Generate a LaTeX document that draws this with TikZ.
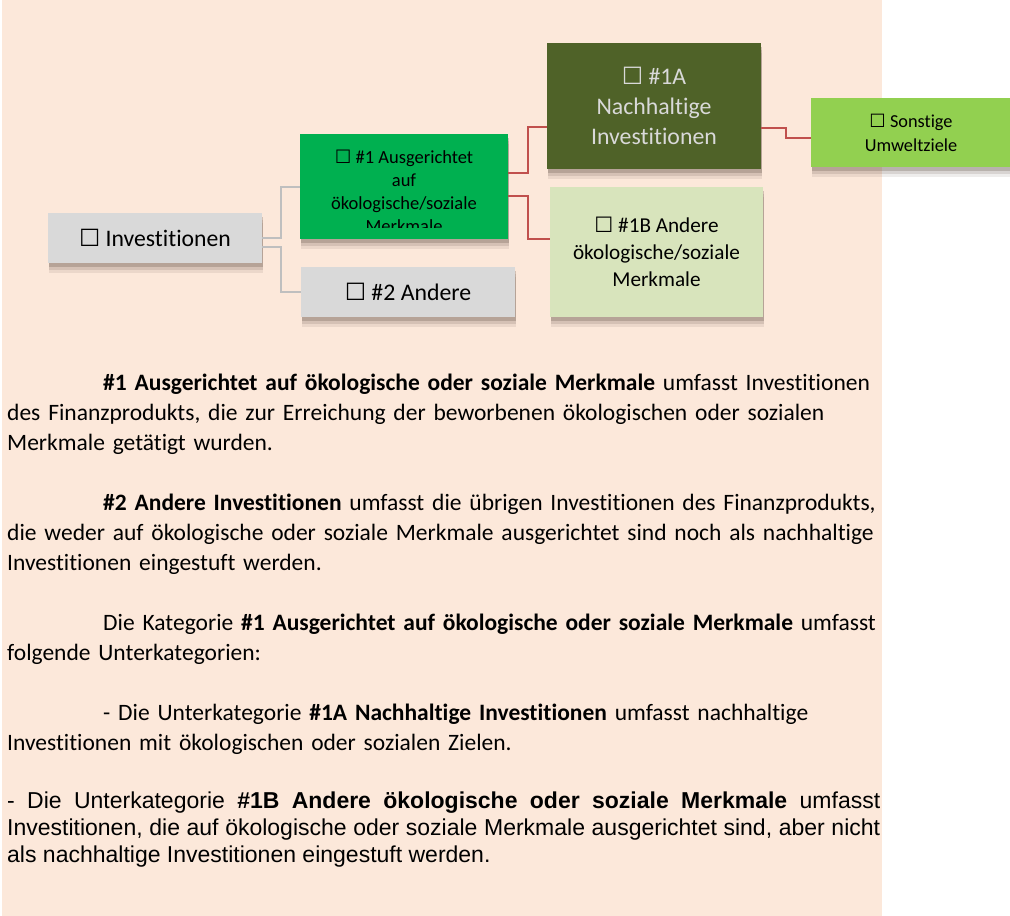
\documentclass[tikz,border=0pt]{standalone}
\usepackage{fontspec}
\setmainfont{Carlito}[Ligatures=NoCommon]
\newfontfamily\arialfont{Liberation Sans}
\newfontfamily\glyphfont{DejaVu Sans}
\usetikzlibrary{shadows}
\definecolor{peach}{HTML}{FCE8DA}
\definecolor{boxgray}{HTML}{D9D9D9}
\definecolor{xgreen}{HTML}{00B050}
\definecolor{xolive}{HTML}{4F6228}
\definecolor{xpale}{HTML}{D8E4BC}
\definecolor{xlime}{HTML}{92D050}
\definecolor{xred}{HTML}{C0504D}
\definecolor{linegray}{HTML}{BFBFBF}
\definecolor{shade}{HTML}{5A4A40}
\newcommand{\chkbox}{{\glyphfont ☐}}
\tikzset{
	box/.style={inner sep=0pt, align=center,
		general shadow={fill=shade, opacity=.10, shadow yshift=-10pt, shadow xshift=1pt},
		general shadow={fill=shade, opacity=.15, shadow yshift=-7pt, shadow xshift=1pt},
		general shadow={fill=shade, opacity=.25, shadow yshift=-4pt, shadow xshift=.5pt}},
	greyline/.style={draw=linegray, line width=2pt},
	redline/.style={draw=xred, line width=2pt},
	para/.style={anchor=base west, inner sep=0pt, text width=900pt, align=left,
		font=\fontsize{23.5pt}{30pt}\selectfont},
}

\begin{document}
\begin{tikzpicture}[x=1pt, y=-1pt]
	\useasboundingbox (0,0) rectangle (1010,916);
	\fill[peach] (2,0) rectangle (882,916);

	% Hierarchy
	\node[box, fill=boxgray, minimum width=214pt, minimum height=50pt, font=\fontsize{23.7pt}{28pt}\selectfont] (inv) at (155,238) {\chkbox{} Investitionen};

	\node[box, fill=xgreen, minimum width=208pt, minimum height=105pt] (cat1) at (404,186.5) {};
	\begin{scope}
		\clip (cat1.north west) rectangle ([yshift=12pt]cat1.south east);
		\node[align=center, inner sep=0pt, font=\fontsize{18.5pt}{23pt}\selectfont] (cat1txt) at (404,191.5) {\chkbox{} \#1 Ausgerichtet\\auf\\ökologische/soziale\\Merkmale};
	\end{scope}
	\node[box, fill=boxgray, minimum width=214pt, minimum height=50pt, font=\fontsize{23.8pt}{28pt}\selectfont] (cat2) at (408,292) {\chkbox{} \#2 Andere};

	\node[box, fill=xolive, text=boxgray, minimum width=214pt, minimum height=126pt, font=\fontsize{23.8pt}{30pt}\selectfont] (sub1a) at (654,106) {\chkbox{} \#1A\\Nachhaltige\\Investitionen};
	\node[box, fill=xpale, minimum width=213pt, minimum height=130pt, font=\fontsize{21.2pt}{27pt}\selectfont] (sub1b) at (656.5,252) {\chkbox{} \#1B Andere\\ökologische/soziale\\Merkmale};
	\node[box, fill=xlime, minimum width=200pt, minimum height=69pt, font=\fontsize{18.3pt}{24pt}\selectfont] (env) at (911,132.5) {\chkbox{} Sonstige\\Umweltziele};

	\draw[greyline] (inv.east) -- ++(19,0) |- (cat1.west);
	\draw[greyline] ([yshift=-9pt]inv.east) -- ++(19,0) |- (cat2.west);
	\draw[redline] ([yshift=13.5pt]cat1.east) -- ++(20,0) |- ([yshift=-21pt]sub1a.west);
	\draw[redline] ([yshift=-9.5pt]cat1.east) -- ++(20,0) |- ([yshift=13pt]sub1b.west);
	\draw[redline] ([yshift=-22pt]sub1a.east) -- ++(25,0) |- ([yshift=-5.5pt]env.west);

	% Explanations
	\node[para] (txt1) at (7,390) {\hspace*{96pt}\textbf{\#1 Ausgerichtet auf ökologische oder soziale Merkmale} umfasst Investitionen\\des Finanzprodukts, die zur Erreichung der beworbenen ökologischen oder sozialen\\Merkmale getätigt wurden.};
	\node[para] (txt2) at (7,510) {\hspace*{96pt}\textbf{\#2 Andere Investitionen} umfasst die übrigen Investitionen des Finanzprodukts,\\die weder auf ökologische oder soziale Merkmale ausgerichtet sind noch als nachhaltige\\Investitionen eingestuft werden.};
	\node[para] (txt3) at (7,630) {\hspace*{96pt}Die Kategorie \textbf{\#1 Ausgerichtet auf ökologische oder soziale Merkmale} umfasst\\folgende Unterkategorien:};
	\node[para] (txt4) at (7,720) {\hspace*{96pt}- Die Unterkategorie \textbf{\#1A Nachhaltige Investitionen} umfasst nachhaltige\\Investitionen mit ökologischen oder sozialen Zielen.};
	\node[para, text width=873pt, align=justify, font=\arialfont\fontsize{23pt}{27pt}\selectfont] (txt5) at (7,808) {- Die Unterkategorie \textbf{\#1B Andere ökologische oder soziale Merkmale} umfasst\linebreak Investitionen, die auf ökologische oder soziale Merkmale ausgerichtet sind, aber nicht\linebreak als nachhaltige Investitionen eingestuft werden.};
\end{tikzpicture}
\end{document}
